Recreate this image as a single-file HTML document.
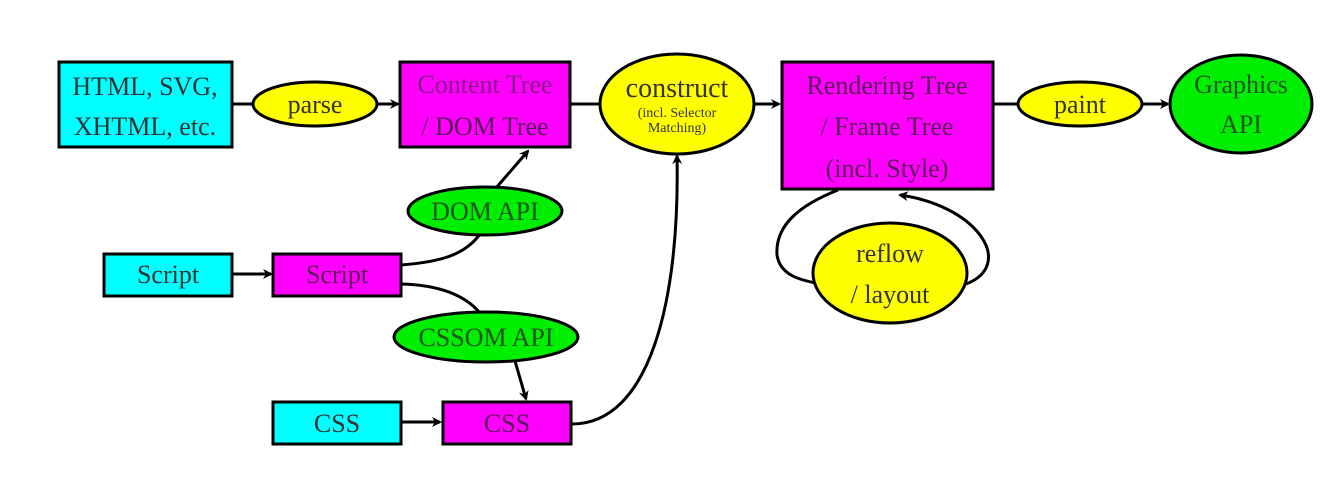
<!DOCTYPE html>
<html><head><meta charset="utf-8"><style>
html,body{margin:0;padding:0;background:#fff;}
svg text{font-family:"Liberation Serif",serif;text-anchor:middle;}
</style></head><body>
<svg width="1344" height="496" viewBox="0 0 1344 496" xmlns="http://www.w3.org/2000/svg">
<defs>
<marker id="a" markerWidth="10" markerHeight="10" refX="8" refY="5" orient="auto" markerUnits="userSpaceOnUse">
<path d="M0,0 L10,5 L0,10 L3,5 Z" fill="#000"/></marker>
</defs>
<rect width="1344" height="496" fill="#fff"/>
<g stroke="#000" stroke-width="3" fill="none">
<line x1="232" y1="104" x2="253" y2="104"/>
<line x1="377" y1="104" x2="398" y2="104" marker-end="url(#a)"/>
<line x1="570" y1="104" x2="600" y2="104"/>
<line x1="755" y1="104" x2="779" y2="104" marker-end="url(#a)"/>
<line x1="993" y1="104" x2="1018" y2="104"/>
<line x1="1142" y1="104" x2="1168" y2="104" marker-end="url(#a)"/>
<line x1="232" y1="274" x2="271" y2="274" marker-end="url(#a)"/>
<line x1="401" y1="422" x2="440" y2="422" marker-end="url(#a)"/>
<path d="M401,265 C440,262 465,255 480,234"/>
<path d="M496,188 L528,151" marker-end="url(#a)"/>
<path d="M401,284 C440,285 465,295 480,313"/>
<path d="M515,361 L526,399" marker-end="url(#a)"/>
<path d="M571,424 C650,425 680,300 677,156" marker-end="url(#a)"/>
<path d="M838,190 C800,205 775,225 777,255 C780,275 800,280 816,283"/>
<path d="M966,284 C990,275 995,255 980,235 C965,215 935,200 900,195" marker-end="url(#a)"/>
</g>
<g stroke="#000" stroke-width="3">
<rect x="59" y="62" width="173" height="85" fill="#00ffff"/>
<rect x="400" y="62" width="170" height="85" fill="#ff00ff"/>
<rect x="782" y="62" width="211" height="127" fill="#ff00ff"/>
<rect x="104" y="254" width="128" height="42" fill="#00ffff"/>
<rect x="273" y="254" width="128" height="42" fill="#ff00ff"/>
<rect x="273" y="402" width="128" height="42" fill="#00ffff"/>
<rect x="443" y="402" width="128" height="42" fill="#ff00ff"/>
<ellipse cx="315" cy="104" rx="62" ry="22" fill="#ffff00"/>
<ellipse cx="677" cy="104" rx="77" ry="50" fill="#ffff00"/>
<ellipse cx="1080" cy="104" rx="62" ry="22" fill="#ffff00"/>
<ellipse cx="1241" cy="104" rx="71" ry="49" fill="#00ee00"/>
<ellipse cx="890" cy="273" rx="77" ry="50" fill="#ffff00"/>
<ellipse cx="485" cy="211" rx="77" ry="24" fill="#00ee00"/>
<ellipse cx="486" cy="337" rx="92" ry="25" fill="#00ee00"/>
</g>
<g font-size="26" fill="#333">
<text x="145" y="95">HTML, SVG,</text>
<text x="145" y="135">XHTML, etc.</text>
<text x="315" y="113">parse</text>
<text x="485" y="93" fill="#8a1a8a">Content Tree</text>
<text x="485" y="135" fill="#5a1a5a">/ DOM Tree</text>
<text x="677" y="97" font-size="28">construct</text>
<text x="677" y="117" font-size="14">(incl. Selector</text>
<text x="677" y="132" font-size="14">Matching)</text>
<text x="887" y="94" fill="#5a1a5a">Rendering Tree</text>
<text x="887" y="135" fill="#5a1a5a">/ Frame Tree</text>
<text x="887" y="177" fill="#5a1a5a">(incl. Style)</text>
<text x="1080" y="113">paint</text>
<text x="1241" y="93" fill="#225522">Graphics</text>
<text x="1241" y="133" fill="#225522">API</text>
<text x="890" y="262">reflow</text>
<text x="890" y="303">/ layout</text>
<text x="485" y="220" fill="#225522">DOM API</text>
<text x="486" y="346" fill="#225522">CSSOM API</text>
<text x="168" y="283">Script</text>
<text x="337" y="283" fill="#5a1a5a">Script</text>
<text x="337" y="432">CSS</text>
<text x="507" y="432" fill="#5a1a5a">CSS</text>
</g>
</svg>
</body></html>
